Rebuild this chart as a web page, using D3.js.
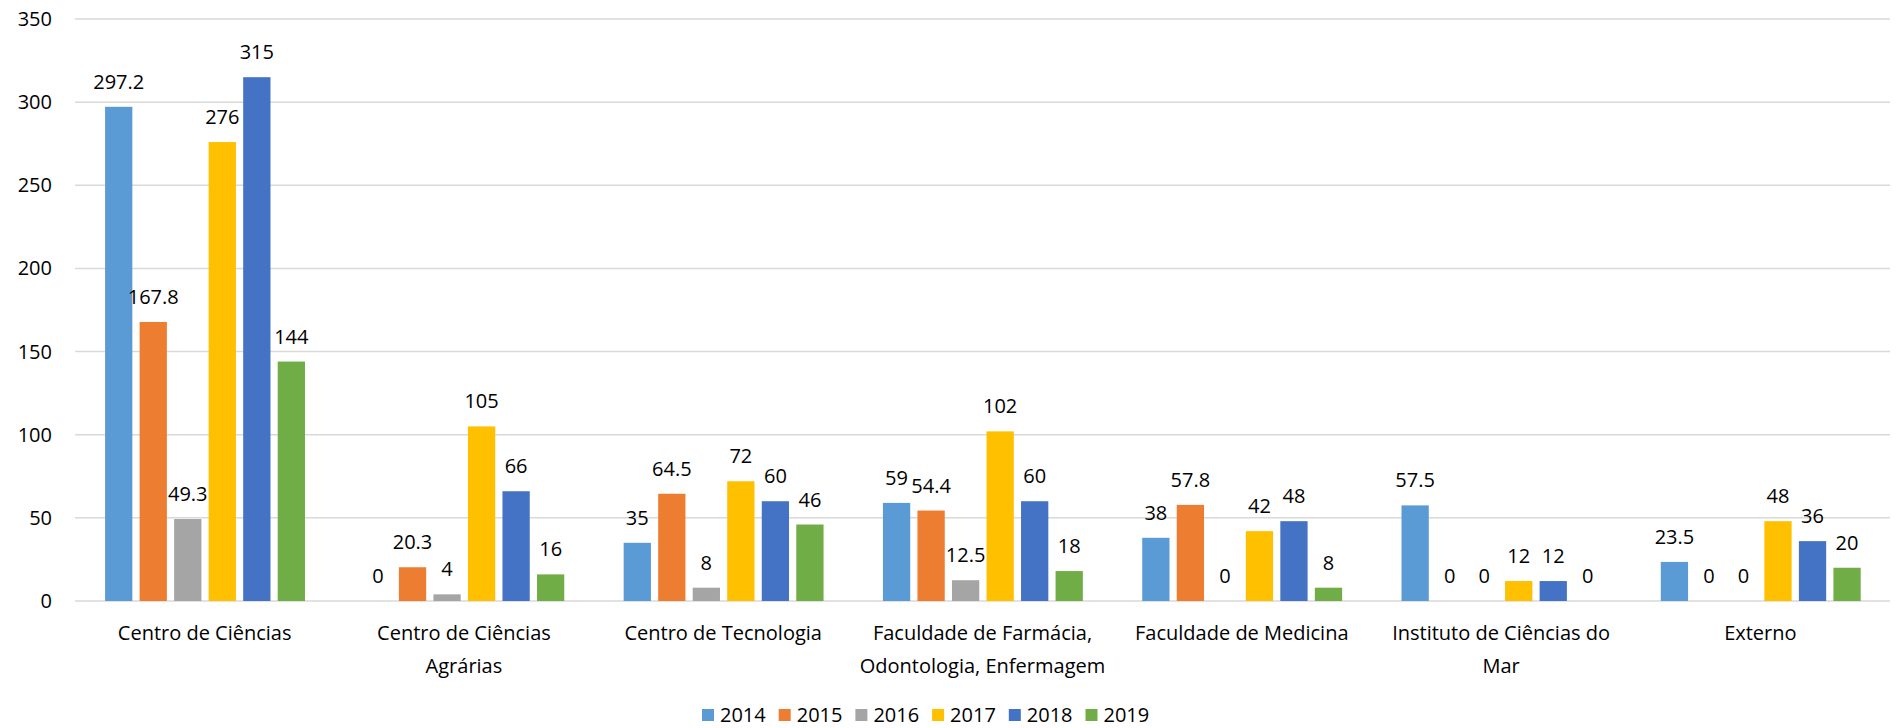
<!DOCTYPE html>
<html>
<head>
<meta charset="utf-8">
<script src="https://cdn.jsdelivr.net/npm/d3@7"></script>
<style>
    body { margin: 0; background: #fff; }
    svg { display: block; font-family: 'Open Sans', sans-serif; }
</style>
</head>
<body>
<div class="chart"></div>
<script>
document.addEventListener('DOMContentLoaded', () => {
    'use strict';

    const years = ['2014', '2015', '2016', '2017', '2018', '2019'];
    const categories = [
        'Centro de Ciências',
        'Centro de Ciências Agrárias',
        'Centro de Tecnologia',
        'Faculdade de Farmácia, Odontologia, Enfermagem',
        'Faculdade de Medicina',
        'Instituto de Ciências do Mar',
        'Externo'
    ];
    // wrapped tick labels, as they appear under the axis
    const categoryLines = [
        ['Centro de Ciências'],
        ['Centro de Ciências', 'Agrárias'],
        ['Centro de Tecnologia'],
        ['Faculdade de Farmácia,', 'Odontologia, Enfermagem'],
        ['Faculdade de Medicina'],
        ['Instituto de Ciências do', 'Mar'],
        ['Externo']
    ];
    const values2014 = [297.2, 0, 35, 59, 38, 57.5, 23.5];
    const values2015 = [167.8, 20.3, 64.5, 54.4, 57.8, 0, 0];
    const values2016 = [49.3, 4, 8, 12.5, 0, 0, 0];
    const values2017 = [276, 105, 72, 102, 42, 12, 48];
    const values2018 = [315, 66, 60, 60, 48, 12, 36];
    const values2019 = [144, 16, 46, 18, 8, 0, 20];
    const yTicks = [0, 50, 100, 150, 200, 250, 300, 350];
    const colors = ['#5B9BD5', '#ED7D31', '#A5A5A5', '#FFC000', '#4472C4', '#70AD47'];

    const series = [values2014, values2015, values2016, values2017, values2018, values2019];

    let width = 1899,
        height = 728,
        margin = {top: 19, right: 9, bottom: 127, left: 75};

    let svg = d3.select('.chart').append('svg')
        .attr('width', width)
        .attr('height', height);

    let x0 = d3.scaleBand()
        .domain(categories)
        .range([margin.left, width - margin.right]);

    let bw = x0.bandwidth();
    let x1 = d3.scaleBand()
        .domain(years)
        .range([bw * 0.116, bw * 0.887])
        .paddingInner(0.21);

    let y = d3.scaleLinear()
        .domain([0, 350])
        .range([height - margin.bottom, margin.top]);

    let color = d3.scaleOrdinal().domain(years).range(colors);

    // gridlines
    svg.append('g')
        .selectAll('line')
        .data(yTicks)
      .enter().append('line')
        .attr('x1', margin.left)
        .attr('x2', width - margin.right)
        .attr('y1', d => y(d))
        .attr('y2', d => y(d))
        .attr('stroke', '#D9D9D9')
        .attr('stroke-width', 1.5);

    // y labels
    svg.append('g')
        .selectAll('text')
        .data(yTicks)
      .enter().append('text')
        .attr('x', 52)
        .attr('y', d => y(d))
        .attr('dy', '0.35em')
        .attr('text-anchor', 'end')
        .attr('font-size', 20)
        .attr('fill', '#000')
        .text(d => d);

    let rows = categories.map((c, i) => ({
        category: c,
        values: years.map((yr, j) => ({year: yr, value: series[j][i]}))
    }));

    let groups = svg.append('g')
        .selectAll('g')
        .data(rows)
      .enter().append('g')
        .attr('transform', d => 'translate(' + x0(d.category) + ',0)');

    groups.selectAll('rect')
        .data(d => d.values)
      .enter().append('rect')
        .attr('x', d => x1(d.year))
        .attr('width', x1.bandwidth())
        .attr('y', d => y(d.value))
        .attr('height', d => y(0) - y(d.value))
        .attr('fill', d => color(d.year));

    groups.selectAll('text')
        .data(d => d.values)
      .enter().append('text')
        .attr('x', d => x1(d.year) + x1.bandwidth() / 2)
        .attr('y', d => y(d.value) - 18)
        .attr('text-anchor', 'middle')
        .attr('font-size', 20)
        .attr('fill', '#000')
        .text(d => d.value);

    // category labels
    svg.append('g')
        .selectAll('text')
        .data(categories)
      .enter().append('text')
        .attr('text-anchor', 'middle')
        .attr('font-size', 20)
        .attr('fill', '#000')
        .attr('transform', d => 'translate(' + (x0(d) + bw / 2) + ',' + (y(0) + 39) + ')')
        .each(function(d, i) {
            d3.select(this).selectAll('tspan')
                .data(categoryLines[i])
              .enter().append('tspan')
                .attr('x', 0)
                .attr('dy', (l, k) => k === 0 ? 0 : 33)
                .text(l => l);
        });

    // legend
    let legendX = d3.scaleBand()
        .domain(years)
        .range([702, 702 + 76.7 * 6]);

    let legend = svg.append('g')
        .selectAll('g')
        .data(years)
      .enter().append('g')
        .attr('transform', d => 'translate(' + legendX(d) + ',' + 715 + ')');

    legend.append('rect')
        .attr('x', 0)
        .attr('y', -6)
        .attr('width', 12)
        .attr('height', 12)
        .attr('fill', d => color(d));

    legend.append('text')
        .attr('x', 18)
        .attr('dy', '0.35em')
        .attr('font-size', 20)
        .attr('fill', '#000')
        .text(d => d);
});
</script>
</body>
</html>
